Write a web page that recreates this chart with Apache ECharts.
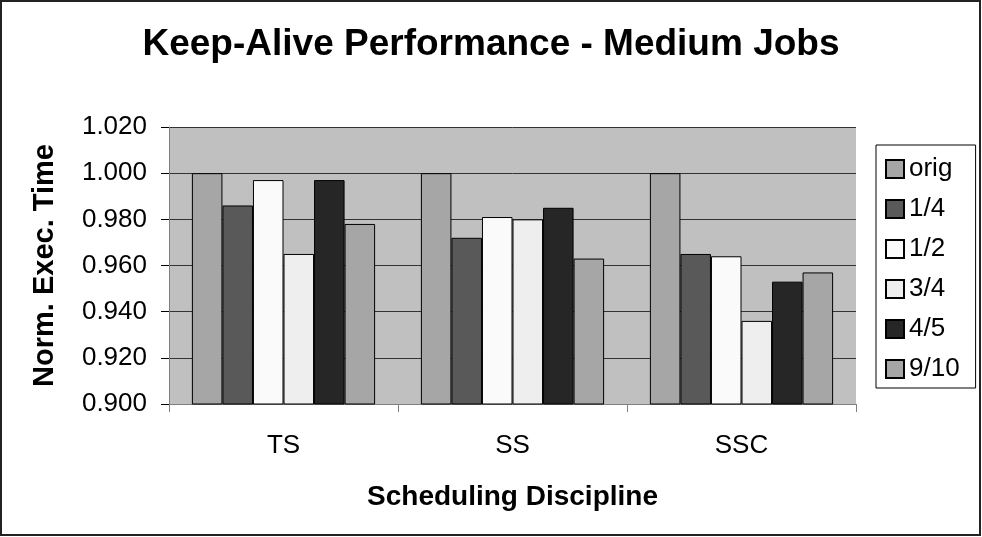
<!DOCTYPE html>
<html>
<head>
<meta charset="utf-8">
<script src="https://cdn.jsdelivr.net/npm/echarts@6/dist/echarts.min.js"></script>
<style>
  html, body { margin: 0; padding: 0; background: #fff; }
  #chart { width: 982px; height: 537px; }
</style>
</head>
<body>
<div id="chart"></div>
<script>
var categories = ['TS', 'SS', 'SSC'];
var seriesNames = ['orig', '1/4', '1/2', '3/4', '4/5', '9/10'];
var origVals = [1.000, 1.000, 1.000];
var quarterVals = [0.986, 0.972, 0.965];
var halfVals = [0.997, 0.981, 0.964];
var threeQuarterVals = [0.965, 0.980, 0.936];
var fourFifthVals = [0.997, 0.985, 0.953];
var nineTenthVals = [0.978, 0.963, 0.957];
var yTicks = { min: 0.9, max: 1.02, interval: 0.02 };

var allVals = [origVals, quarterVals, halfVals, threeQuarterVals, fourFifthVals, nineTenthVals];
var colorArray = ['#A6A6A6', '#595959', '#FAFAFA', '#EEEEEE', '#262626', '#A6A6A6'];
var font = 'Liberation Sans, Arial, sans-serif';

var chart = echarts.init(document.getElementById('chart'));

var series = seriesNames.map(function(name, i) {
  return {
    name: name,
    type: 'bar',
    barGap: '0%',
    barCategoryGap: '20%',
    itemStyle: {
      color: colorArray[i],
      borderColor: '#000',
      borderWidth: 1
    },
    data: allVals[i]
  };
});

var option = {
  backgroundColor: '#fff',
  animation: false,
  title: {
    text: 'Keep-Alive Performance - Medium Jobs',
    left: 'center',
    top: 26,
    padding: 0,
    textStyle: {
      fontFamily: font,
      fontWeight: 'bold',
      fontSize: 37,
      color: '#000'
    }
  },
  legend: {
    orient: 'vertical',
    left: 876,
    top: 145,
    padding: [11, 16, 6, 9],
    itemWidth: 18,
    itemHeight: 18,
    itemGap: 14,
    borderColor: '#000',
    borderWidth: 1,
    icon: 'rect',
    textStyle: {
      fontFamily: font,
      fontSize: 26,
      color: '#000'
    },
    data: seriesNames
  },
  grid: {
    left: 169,
    right: 126,
    top: 127,
    bottom: 133,
    show: true,
    backgroundColor: '#C0C0C0',
    borderWidth: 0
  },
  xAxis: {
    type: 'category',
    data: categories,
    name: 'Scheduling Discipline',
    nameLocation: 'middle',
    nameGap: 79,
    nameTextStyle: {
      fontFamily: font,
      fontWeight: 'bold',
      fontSize: 28,
      color: '#000'
    },
    axisLine: { lineStyle: { color: '#808080', width: 1 } },
    axisTick: { show: true, length: 8, lineStyle: { color: '#808080' } },
    axisLabel: {
      margin: 29,
      fontFamily: font,
      fontSize: 26,
      color: '#000'
    }
  },
  yAxis: {
    type: 'value',
    min: yTicks.min,
    max: yTicks.max,
    interval: yTicks.interval,
    name: 'Norm. Exec. Time',
    nameLocation: 'middle',
    nameGap: 110,
    nameTextStyle: {
      fontFamily: font,
      fontWeight: 'bold',
      fontSize: 29,
      color: '#000'
    },
    axisLine: { show: true, lineStyle: { color: '#808080', width: 1 } },
    axisTick: { show: true, length: 8, lineStyle: { color: '#000' } },
    splitLine: { show: true, lineStyle: { color: '#333', width: 1 } },
    axisLabel: {
      margin: 22,
      fontFamily: font,
      fontSize: 26,
      color: '#000',
      formatter: function(v) { return v.toFixed(3); }
    }
  },
  graphic: [{
    type: 'rect',
    shape: { x: 1, y: 1, width: 979, height: 534 },
    style: { fill: null, stroke: '#222', lineWidth: 2 },
    silent: true
  }],
  series: series
};

chart.setOption(option);
window.addEventListener('resize', function() {
  chart.resize();
});
</script>
</body>
</html>
